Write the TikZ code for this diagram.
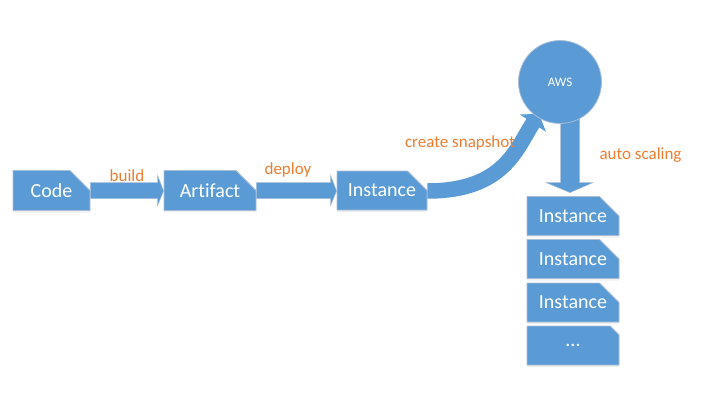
\documentclass[tikz,border=0pt]{standalone}
\usepackage{fontspec}
\setmainfont[Ligatures=NoCommon]{Carlito}
\usetikzlibrary{shapes.misc,arrows.meta,calc,shadows}
\definecolor{boxblue}{HTML}{5B9BD5}
\definecolor{boxedge}{HTML}{A9BDD6}
\definecolor{lblorange}{HTML}{ED7D31}
\tikzset{
  snipbox/.style={chamfered rectangle, chamfered rectangle corners=north east,
    chamfered rectangle xsep=15pt, chamfered rectangle ysep=13pt,
    fill=boxblue, draw=boxedge, line width=0.8pt, inner sep=0pt,
    minimum height=39pt, text=white,
    font=\fontsize{20}{24}\selectfont,
    drop shadow={opacity=0.12, shadow xshift=0pt, shadow yshift=-2pt}},
  lbl/.style={text=lblorange, font=\fontsize{17}{20}\selectfont, inner sep=0pt},
  blockarrow/.style={fill=boxblue, draw=boxedge, line width=0.5pt},
}
\begin{document}
\begin{tikzpicture}[x=1pt,y=-1pt]
\useasboundingbox (0,0) rectangle (710,415);
% nodes
\node[snipbox, minimum width=77pt] (code) at (51.5,190.5) {Code};
\node[snipbox, minimum width=92pt] (artifact) at (210,190.5) {Artifact};
\node[snipbox, minimum width=90pt] (inst) at (382,190.5) {Instance};
\node[snipbox, minimum width=92pt] (s1) at (573,216) {Instance};
\node[snipbox, minimum width=92pt] (s2) at (573,259) {Instance};
\node[snipbox, minimum width=92pt] (s3) at (573,302.5) {Instance};
\node[snipbox, minimum width=92pt] (s4) at (573,345.5) {...};
% straight arrows
\fill[blockarrow]
  ($(code.east)+(0,-8)$) -- ($(artifact.west)+(-6,-8)$) -- ($(artifact.west)+(-6,-15)$)
  -- ($(artifact.west)+(0,0.5)$) -- ($(artifact.west)+(-6,15)$) -- ($(artifact.west)+(-6,8)$)
  -- ($(code.east)+(0,8)$) -- cycle;
\draw[blockarrow]
  ($(artifact.east)+(0,-8)$) -- ($(inst.west)+(-6,-8)$) -- ($(inst.west)+(-6,-15)$)
  -- ($(inst.west)+(0,0.5)$) -- ($(inst.west)+(-6,15)$) -- ($(inst.west)+(-6,8)$)
  -- ($(artifact.east)+(0,8)$) -- cycle;
% AWS and arrows around it
\coordinate (awsc) at (560,82);
\coordinate (snaptip) at (539,114);
\draw[boxblue, line width=15.5pt, -{Triangle[width=31pt,length=11pt]}]
  ($(inst.east)+(0,0.5)$) .. controls (505,191) and (517,147) .. (snaptip);
\coordinate (downtop) at ($(awsc)+(10,30)$);
\coordinate (downtip) at ($(s1.north)+(-3,-3.5)$);
\draw[blockarrow]
  ($(downtop)+(-9.5,0)$) -- ($(downtip)+(-9.5,-10)$) -- ($(downtip)+(-24,-10)$)
  -- (downtip) -- ($(downtip)+(23,-10)$) -- ($(downtip)+(9.5,-10)$)
  -- ($(downtop)+(9.5,0)$) -- cycle;
\node[circle, fill=boxblue, draw=boxedge, line width=0.8pt, minimum size=83pt,
  inner sep=0pt, text=white, font=\fontsize{13}{15}\selectfont] (aws) at (awsc) {AWS};
% labels
\node[lbl] (lbuild) at (127,175.5) {build};
\node[lbl] (ldeploy) at (288,170) {deploy};
\node[lbl] (lsnap) at (460,143) {create snapshot};
\node[lbl] (lauto) at (640.5,155) {auto scaling};
\end{tikzpicture}
\end{document}
